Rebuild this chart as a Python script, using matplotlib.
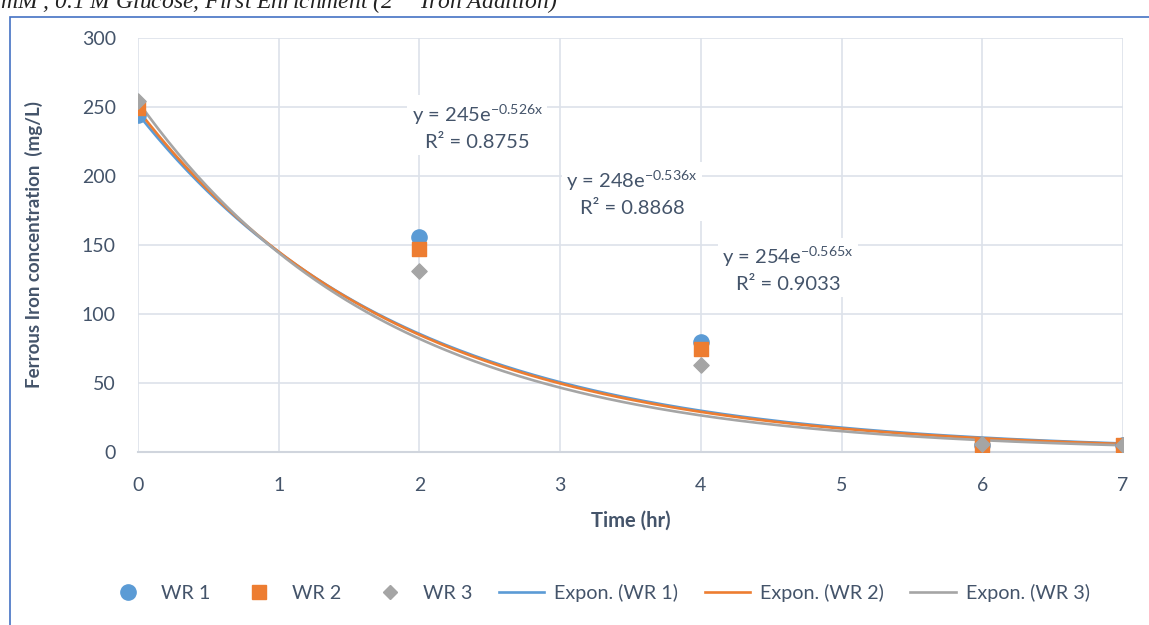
import matplotlib
matplotlib.use('Agg')
from matplotlib import pyplot as plt
from matplotlib.patches import Rectangle
from matplotlib.lines import Line2D
import numpy as np

# measured ferrous iron (mg/L) at sampling times (hr)
time_hr = [0, 2, 4, 6, 7]
wr1 = [244, 156, 80, 5, 5]
wr2 = [249, 147, 75, 5, 5]
wr3 = [254, 131, 63, 6, 5]

# exponential trendline coefficients (a, b) for y = a*exp(b*x)
fit1 = (245, -0.526)
fit2 = (248, -0.536)
fit3 = (254, -0.565)
eq_labels = [('245', '-0.526', '0.8755'), ('248', '-0.536', '0.8868'), ('254', '-0.565', '0.9033')]

blue = '#5B9BD5'
orange = '#ED7D31'
gray = '#A5A5A5'
txt = '#44546A'

plt.rcParams['font.family'] = ['Lato', 'DejaVu Sans']

fig = plt.figure(figsize=(11.49, 6.25), dpi=100)
ax = fig.add_axes([0.1201, 0.2768, 0.8573, 0.6624])

# frame around the figure (partly off-canvas) and the clipped caption above
fig.patches.append(Rectangle((10/1149, -0.1), 1.2, 1 - 17/625 + 0.1, transform=fig.transFigure,
                             fill=False, edgecolor='#4472C4', linewidth=1.2))
fig.text(0.0, 1.0, r'mM , 0.1 M Glucose, First Enrichment (2$^{nd}$ Iron Addition)',
         family='Liberation Serif', style='italic', fontsize=17, va='center', ha='left', color='#222222')

xx = np.linspace(0, 7, 200)
for (a, b), c in [(fit1, blue), (fit2, orange), (fit3, gray)]:
    ax.plot(xx, a * np.exp(b * xx), color=c, linewidth=1.9, zorder=2)

ax.scatter(time_hr, wr1, color=blue, marker='o', s=120, zorder=3)
ax.scatter(time_hr, wr2, color=orange, marker='s', s=105, zorder=4)
ax.scatter(time_hr, wr3, color=gray, marker='D', s=60, zorder=5)

ax.set_xlim(0, 7)
ax.set_ylim(0, 300)
ax.set_xticks(range(0, 8))
ax.set_yticks(range(0, 301, 50))
ax.grid(True, color='#DDE2EA', linewidth=1.2)
ax.set_axisbelow(True)
for s in ['top', 'right', 'left']:
    ax.spines[s].set_visible(False)
ax.spines['bottom'].set_color('#D0D5DD')
ax.spines['bottom'].set_linewidth(1.5)
ax.tick_params(axis='x', length=0, labelsize=14, colors=txt, pad=18)
ax.tick_params(axis='y', length=0, labelsize=14, colors=txt, pad=16)

ax.set_xlabel('Time (hr)', fontsize=14.5, fontweight='bold', color=txt, labelpad=12)
ax.set_ylabel('Ferrous Iron concentration  (mg/L)', fontsize=13.5, fontweight='bold', color=txt, labelpad=28)

# trendline equation boxes
eq_pos = [(2.41, 236), (3.51, 188), (4.62, 133)]
for (px, py), (a, b, r2) in zip(eq_pos, eq_labels):
    ax.text(px, py, 'y = %se$^{\\mathregular{%sx}}$\nR² = %s' % (a, b, r2), ha='center', va='center',
            fontsize=14.5, color=txt, linespacing=1.5,
            bbox=dict(facecolor='white', edgecolor='none', pad=3), zorder=6)

handles = [
    Line2D([], [], marker='o', linestyle='none', color=blue, markersize=11),
    Line2D([], [], marker='s', linestyle='none', color=orange, markersize=10),
    Line2D([], [], marker='D', linestyle='none', color=gray, markersize=7.5),
    Line2D([], [], color=blue, linewidth=1.9),
    Line2D([], [], color=orange, linewidth=1.9),
    Line2D([], [], color=gray, linewidth=1.9),
]
labels = ['WR 1', 'WR 2', 'WR 3', 'Expon. (WR 1)', 'Expon. (WR 2)', 'Expon. (WR 3)']
fig.legend(handles, labels, loc='center', bbox_to_anchor=(0.52, 0.051), ncol=6, frameon=False,
           fontsize=14.2, labelcolor=txt, handlelength=2.3, handletextpad=0.5, columnspacing=1.35)

plt.savefig('out.png', dpi=100)
